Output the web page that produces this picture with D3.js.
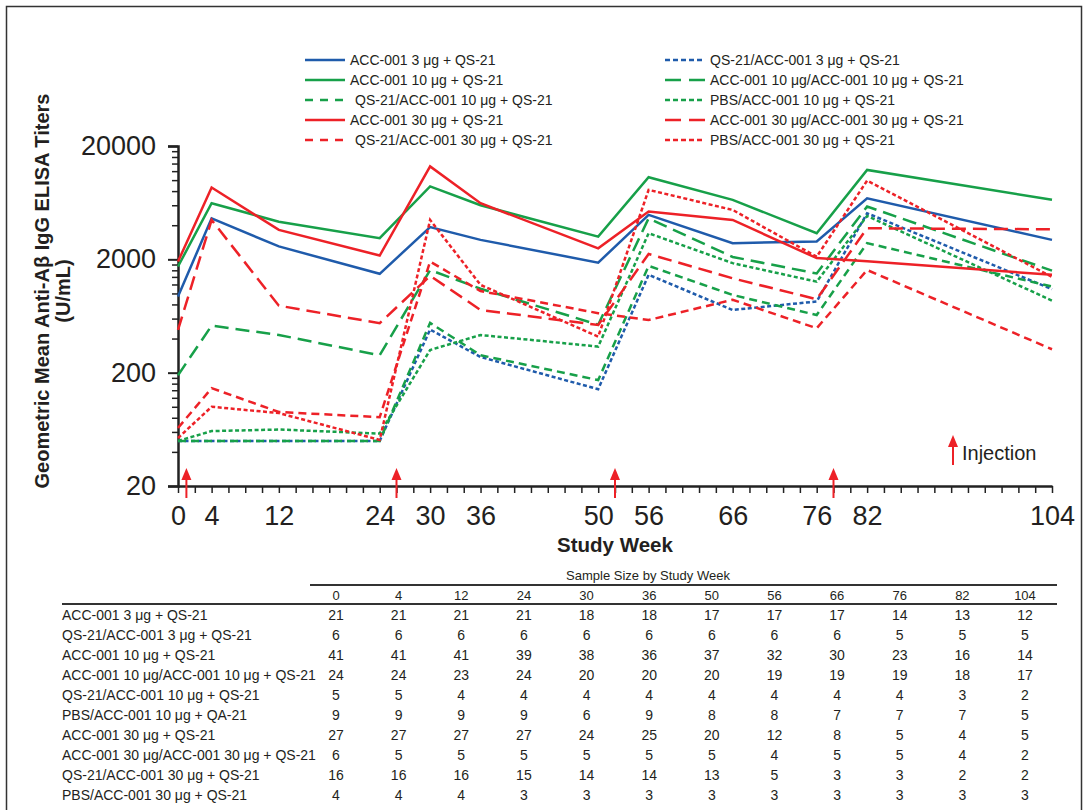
<!DOCTYPE html>
<html>
<head>
<meta charset="utf-8">
<script src="https://cdn.jsdelivr.net/npm/d3@7"></script>
<style>
  body { margin: 0; background: #fff; }
  text { font-family: "Liberation Sans", Arial, sans-serif; fill: #231f20; }
</style>
</head>
<body>
<div id="chart"></div>
<script>
// study weeks (x) and geometric mean titers per group
const weeks = [0, 4, 12, 24, 30, 36, 50, 56, 66, 76, 82, 104];
const xTickWeeks = weeks;
const yTickValues = [20, 200, 2000, 20000];
const injectionWeeks = [1, 26, 52, 78];

const acc3 = [940, 4600, 2600, 1490, 3850, 2970, 1870, 4930, 2780, 2870, 6900, 2970];
const qsAcc3 = [50, 50, 50, 50, 480, 275, 143, 1460, 715, 850, 5100, 1090];
const acc10 = [1730, 6250, 4300, 3070, 8800, 6000, 3170, 10600, 6700, 3400, 12300, 6700];
const acc10acc10 = [190, 520, 430, 285, 1610, 1100, 530, 4600, 2100, 1500, 5850, 1590];
const qsAcc10 = [50, 50, 50, 50, 550, 285, 172, 1750, 970, 645, 2780, 1150];
const pbsAcc10 = [50, 61, 63, 58, 317, 430, 340, 3400, 1850, 1270, 4830, 865];
const acc30 = [1910, 8600, 3640, 2160, 13200, 6250, 2500, 5280, 4450, 2050, 1920, 1460];
const acc30acc30 = [476, 4450, 780, 546, 1430, 715, 527, 2230, 1360, 890, 3760, 3680];
const qsAcc30 = [65, 146, 90, 81, 1910, 1050, 670, 583, 880, 493, 1610, 322];
const pbsAcc30 = [53, 100, 88, 51, 4450, 1190, 416, 8200, 5460, 2110, 9900, 1400];

// sample size table
const tableLabels = [
  "ACC-001 3 μg + QS-21",
  "QS-21/ACC-001 3 μg + QS-21",
  "ACC-001 10 μg + QS-21",
  "ACC-001 10 μg/ACC-001 10 μg + QS-21",
  "QS-21/ACC-001 10 μg + QS-21",
  "PBS/ACC-001 10 μg + QA-21",
  "ACC-001 30 μg + QS-21",
  "ACC-001 30 μg/ACC-001 30 μg + QS-21",
  "QS-21/ACC-001 30 μg + QS-21",
  "PBS/ACC-001 30 μg + QS-21",
];
const sampleSizes = [
  [21, 21, 21, 21, 18, 18, 17, 17, 17, 14, 13, 12],
  [6, 6, 6, 6, 6, 6, 6, 6, 6, 5, 5, 5],
  [41, 41, 41, 39, 38, 36, 37, 32, 30, 23, 16, 14],
  [24, 24, 23, 24, 20, 20, 20, 19, 19, 19, 18, 17],
  [5, 5, 4, 4, 4, 4, 4, 4, 4, 4, 3, 2],
  [9, 9, 9, 9, 6, 9, 8, 8, 7, 7, 7, 5],
  [27, 27, 27, 27, 24, 25, 20, 12, 8, 5, 4, 5],
  [6, 5, 5, 5, 5, 5, 5, 4, 5, 5, 4, 2],
  [16, 16, 16, 15, 14, 14, 13, 5, 3, 3, 2, 2],
  [4, 4, 4, 3, 3, 3, 3, 3, 3, 3, 3, 3],
];

const blue = "#1f5bab";
const green = "#17a049";
const red = "#ed2127";

// dash styles: plot / legend
const dashes = {
  solid: { plot: null, legend: null },
  long: { plot: "14,7", legend: "16,8" },
  medium: { plot: "8,5", legend: "8,7" },
  short: { plot: "4,2.5", legend: "5,3" },
};

const series = [
  { name: "ACC-001 3 μg + QS-21", values: acc3, color: blue, dash: "solid", col: 0, row: 0 },
  { name: "QS-21/ACC-001 3 μg + QS-21", values: qsAcc3, color: blue, dash: "short", col: 1, row: 0 },
  { name: "ACC-001 10 μg + QS-21", values: acc10, color: green, dash: "solid", col: 0, row: 1 },
  { name: "ACC-001 10 μg/ACC-001 10 μg + QS-21", values: acc10acc10, color: green, dash: "long", col: 1, row: 1 },
  { name: "QS-21/ACC-001 10 μg + QS-21", values: qsAcc10, color: green, dash: "medium", col: 0, row: 2 },
  { name: "PBS/ACC-001 10 μg + QS-21", values: pbsAcc10, color: green, dash: "short", col: 1, row: 2 },
  { name: "ACC-001 30 μg + QS-21", values: acc30, color: red, dash: "solid", col: 0, row: 3 },
  { name: "ACC-001 30 μg/ACC-001 30 μg + QS-21", values: acc30acc30, color: red, dash: "long", col: 1, row: 3 },
  { name: "QS-21/ACC-001 30 μg + QS-21", values: qsAcc30, color: red, dash: "medium", col: 0, row: 4 },
  { name: "PBS/ACC-001 30 μg + QS-21", values: pbsAcc30, color: red, dash: "short", col: 1, row: 4 },
];

const W = 1088, H = 810;
const svg = d3.select("#chart").append("svg").attr("width", W).attr("height", H);

// outer frame
svg.append("rect")
  .attr("x", 6.5).attr("y", 6.5).attr("width", 1075).attr("height", 830)
  .attr("fill", "none").attr("stroke", "#333").attr("stroke-width", 1.5);

const x = d3.scaleLinear().domain([0, 104]).range([178, 1052]);
const y = d3.scaleLog().domain([20, 20000]).range([486, 146]);

// y axis with minor ticks at n*20*10^k
const yMinor = [];
[20, 200, 2000].forEach((b) => {
  for (let n = 2; n <= 9; n++) yMinor.push(b * n);
});
svg.append("g")
  .attr("transform", "translate(178,0)")
  .call(d3.axisLeft(y).tickValues(yMinor).tickSize(6).tickFormat(""))
  .call((g) => g.select(".domain").remove())
  .call((g) => g.selectAll("line").attr("stroke", "#222").attr("stroke-width", 1.5));
svg.append("g")
  .attr("transform", "translate(178,0)")
  .call(d3.axisLeft(y).tickValues(yTickValues).tickSize(10).tickPadding(12).tickFormat(d3.format("d")))
  .call((g) => g.select(".domain").attr("stroke", "#222").attr("stroke-width", 2.5))
  .call((g) => g.selectAll("line").attr("stroke", "#222").attr("stroke-width", 2))
  .call((g) => g.selectAll("text").style("font-size", "27px").attr("fill", "#231f20"));

// x axis: ticks every 2 weeks, labels at study weeks
svg.append("g")
  .attr("transform", "translate(0,486)")
  .call(d3.axisBottom(x).tickValues(d3.range(0, 105, 2)).tickSize(7).tickSizeOuter(0).tickFormat(""))
  .call((g) => g.select(".domain").attr("stroke", "#222").attr("stroke-width", 2.5))
  .call((g) => g.selectAll("line").attr("stroke", "#222").attr("stroke-width", 1.5));
svg.append("g")
  .attr("transform", "translate(0,486)")
  .call(d3.axisBottom(x).tickValues(xTickWeeks).tickSize(0).tickPadding(20))
  .call((g) => g.select(".domain").remove())
  .call((g) => g.selectAll("text").style("font-size", "27px").attr("fill", "#231f20"));

// axis titles
svg.append("text")
  .attr("x", 615).attr("y", 552)
  .attr("text-anchor", "middle")
  .style("font-size", "20.5px").style("font-weight", "bold")
  .text("Study Week");
svg.append("text")
  .attr("transform", "translate(49,291) rotate(-90)")
  .attr("text-anchor", "middle")
  .style("font-size", "20px").style("font-weight", "bold")
  .text("Geometric Mean Anti-Aβ IgG ELISA Titers");
svg.append("text")
  .attr("transform", "translate(70,291) rotate(-90)")
  .attr("text-anchor", "middle")
  .style("font-size", "20px").style("font-weight", "bold")
  .text("(U/mL)");

// lines
const line = d3.line()
  .x((d, i) => x(weeks[i]))
  .y((d) => y(d));

svg.append("g")
  .selectAll("path")
  .data(series)
  .enter()
  .append("path")
  .attr("d", (s) => line(s.values))
  .attr("fill", "none")
  .attr("stroke", (s) => s.color)
  .attr("stroke-width", 2.5)
  .attr("stroke-dasharray", (s) => dashes[s.dash].plot);

// injection arrows
function arrow(g, cx, yTop, yBottom) {
  g.append("line")
    .attr("x1", cx).attr("x2", cx)
    .attr("y1", yTop + 10).attr("y2", yBottom)
    .attr("stroke", red).attr("stroke-width", 2);
  g.append("path")
    .attr("d", `M${cx - 5},${yTop + 12} L${cx},${yTop} L${cx + 5},${yTop + 12} Z`)
    .attr("fill", red);
}
const arrows = svg.append("g");
injectionWeeks.forEach((w) => arrow(arrows, x(w), 468, 498));
arrow(arrows, 953, 435, 465);
svg.append("text")
  .attr("x", 962).attr("y", 460)
  .style("font-size", "20px")
  .text("Injection");

// legend
const legend = svg.append("g");
const colX = [305, 665];
series.forEach((s) => {
  const lx = colX[s.col];
  const ly = 60 + s.row * 20;
  legend.append("line")
    .attr("x1", lx).attr("x2", lx + 40)
    .attr("y1", ly).attr("y2", ly)
    .attr("stroke", s.color).attr("stroke-width", 2.5)
    .attr("stroke-dasharray", dashes[s.dash].legend);
  legend.append("text")
    .attr("x", lx + (s.dash === "medium" ? 50 : 45)).attr("y", ly + 5)
    .style("font-size", "14px")
    .text(s.name);
});

// sample size table
const table = svg.append("g");
const colScale = d3.scalePoint().domain(weeks).range([336, 1025]);
table.append("text")
  .attr("x", 648).attr("y", 580)
  .attr("text-anchor", "middle")
  .style("font-size", "13px")
  .text("Sample Size by Study Week");
table.append("line")
  .attr("x1", 310).attr("x2", 1057).attr("y1", 585).attr("y2", 585)
  .attr("stroke", "#333").attr("stroke-width", 1.8);
table.append("line")
  .attr("x1", 62).attr("x2", 1057).attr("y1", 604).attr("y2", 604)
  .attr("stroke", "#333").attr("stroke-width", 1.8);
table.selectAll(".hdr")
  .data(weeks)
  .enter()
  .append("text")
  .attr("x", (d) => colScale(d))
  .attr("y", 600)
  .attr("text-anchor", "middle")
  .style("font-size", "13px")
  .text((d) => d);

tableLabels.forEach((label, r) => {
  const ry = 620 + r * 20;
  table.append("text")
    .attr("x", 62).attr("y", ry)
    .style("font-size", "14px")
    .text(label);
  table.selectAll(".r" + r)
    .data(sampleSizes[r])
    .enter()
    .append("text")
    .attr("x", (d, i) => colScale(weeks[i]))
    .attr("y", ry)
    .attr("text-anchor", "middle")
    .style("font-size", "14px")
    .text((d) => d);
});
</script>
</body>
</html>
